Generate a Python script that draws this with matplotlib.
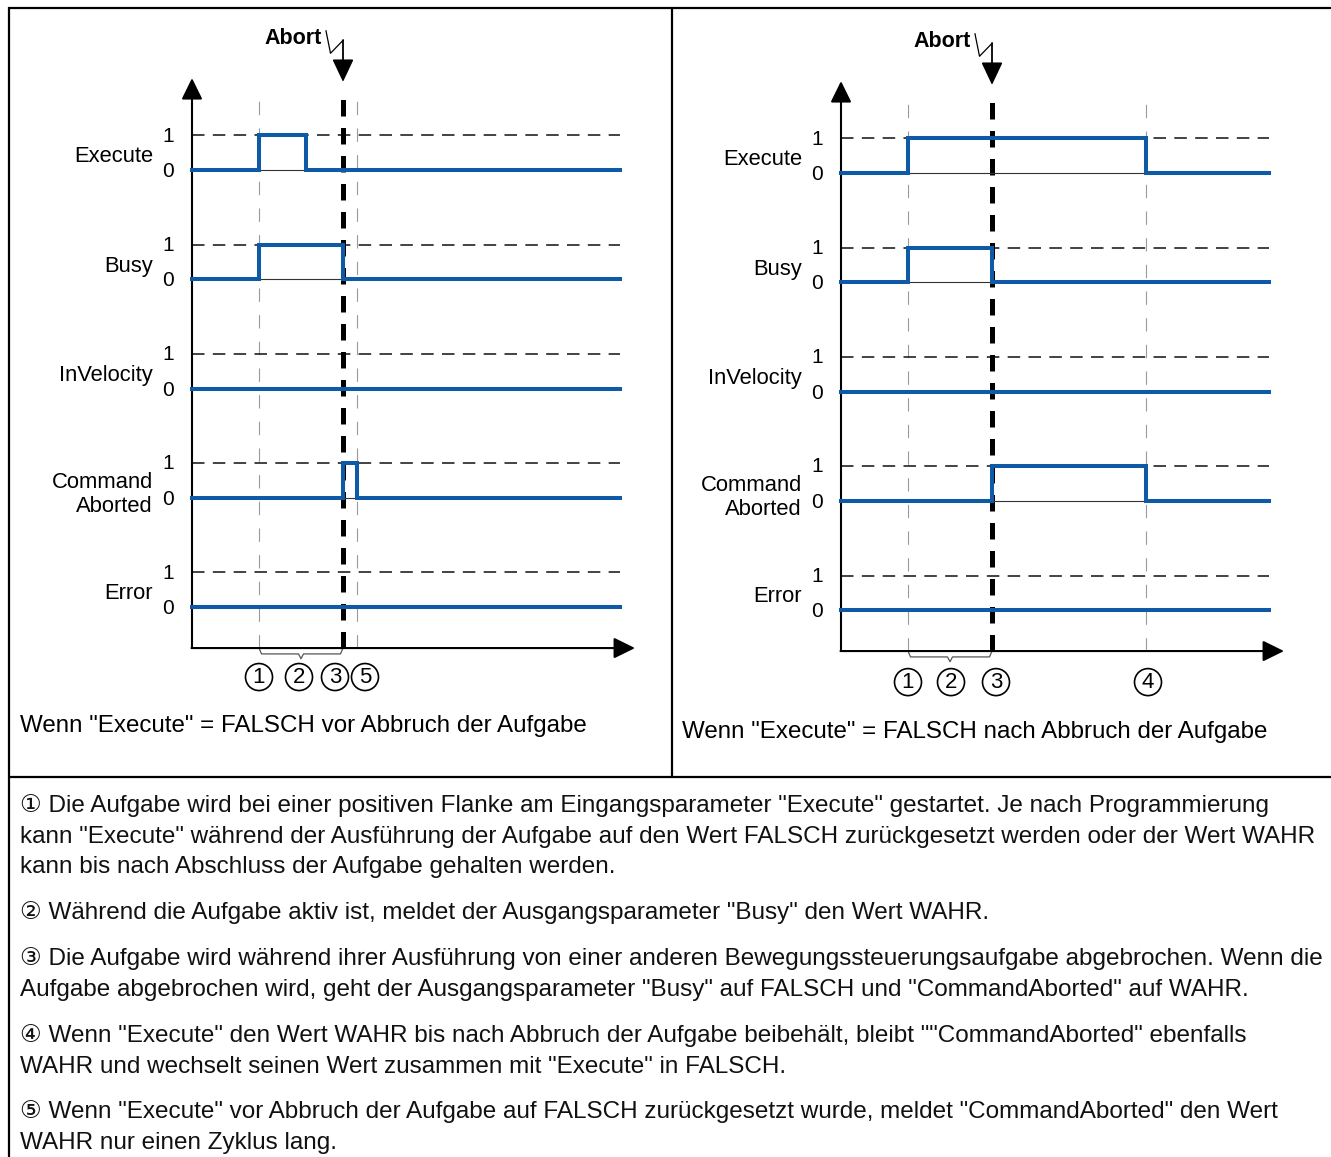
import numpy as np
import matplotlib
matplotlib.use('Agg')
import matplotlib.pyplot as plt
from matplotlib.patches import Ellipse

plt.rcParams['font.family'] = ['Liberation Sans', 'DejaVu Sans']

W, H = 1331, 1157
BLUE = '#0f5aa6'
PX_Y = 34.5   # Pixel pro Einheit in y (Abstand 0 -> 1)

# Signale und Zeilen (Basislinie der Zeile in Einheiten)
signals = ['Execute', 'Busy', 'InVelocity', 'Command\nAborted', 'Error']
row_base = [12.67, 9.5, 6.33, 3.17, 0.0]

# WAHR-Phasen je Signal (Start, Ende), Zeit in Einheiten ab der y-Achse
left_high = [[(6.7, 11.4)], [(6.7, 15.1)], [], [(15.1, 16.5)], []]
right_high = [[(6.7, 30.5)], [(6.7, 15.1)], [], [(15.1, 30.5)], []]
t_end = 42.8
abort_t = 15.1

# duenne Hilfslinien und Nummern unter der Zeitachse
left_guides = [6.7, 16.5]
right_guides = [6.7, 30.5]
left_nums = ['1', '2', '3', '5']
left_num_x = [6.7, 10.7, 14.3, 17.3]
right_nums = ['1', '2', '3', '4']
right_num_x = [6.7, 11.0, 15.5, 30.7]

captions = ['Wenn "Execute" = FALSCH vor Abbruch der Aufgabe',
            'Wenn "Execute" = FALSCH nach Abbruch der Aufgabe']

notes = [
    ['\u2460 Die Aufgabe wird bei einer positiven Flanke am Eingangsparameter "Execute" gestartet. Je nach Programmierung',
     'kann "Execute" während der Ausführung der Aufgabe auf den Wert FALSCH zurückgesetzt werden oder der Wert WAHR',
     'kann bis nach Abschluss der Aufgabe gehalten werden.'],
    ['\u2461 Während die Aufgabe aktiv ist, meldet der Ausgangsparameter "Busy" den Wert WAHR.'],
    ['\u2462 Die Aufgabe wird während ihrer Ausführung von einer anderen Bewegungssteuerungsaufgabe abgebrochen. Wenn die',
     'Aufgabe abgebrochen wird, geht der Ausgangsparameter "Busy" auf FALSCH und "CommandAborted" auf WAHR.'],
    ['\u2463 Wenn "Execute" den Wert WAHR bis nach Abbruch der Aufgabe beibehält, bleibt ""CommandAborted" ebenfalls',
     'WAHR und wechselt seinen Wert zusammen mit "Execute" in FALSCH.'],
    ['\u2464 Wenn "Execute" vor Abbruch der Aufgabe auf FALSCH zurückgesetzt wurde, meldet "CommandAborted" den Wert',
     'WAHR nur einen Zyklus lang.'],
]
note_y = [806, 913, 959, 1036, 1112]
line_step = 30.7

fig = plt.figure(figsize=(W / 100, H / 100), dpi=100)

# Rahmen / Tabelle
bg = fig.add_axes([0, 0, 1, 1])
bg.set_xlim(0, W)
bg.set_ylim(H, 0)
bg.axis('off')
fl = dict(color='black', lw=1.6, solid_capstyle='butt')
bg.plot([8, W], [7.5, 7.5], **fl)
bg.plot([8.5, 8.5], [7, H], **fl)
bg.plot([671.5, 671.5], [7, 777], **fl)
bg.plot([8, W], [777, 777], **fl)

bg.text(20, 726, captions[0], fontsize=17.4, va='center', ha='left')
bg.text(682, 732, captions[1], fontsize=17.4, va='center', ha='left')

for lines, y0 in zip(notes, note_y):
    for i, line in enumerate(lines):
        bg.text(20, y0 + i * line_step, line, fontsize=17.45, va='center', ha='left',
                color='#111111')


def panel_axes(px0, py0):
    # px0: Pixel der y-Achse, py0: Pixel der 0-Linie von "Error"
    left = px0 - 150
    top = py0 - 17 * PX_Y
    bottom = py0 + 3 * PX_Y
    ax = fig.add_axes([left / W, 1 - bottom / H, 600 / W, (bottom - top) / H])
    ax.set_xlim(-15, 45)
    ax.set_ylim(-3, 17)
    ax.axis('off')
    return ax


def draw_panel(ax, high, guides, nums, num_x, num_y):
    x_axis_y = -1.19
    top_y = 15.33
    # Achsen mit Pfeilen
    ax.annotate('', xy=(0, top_y), xytext=(0, x_axis_y),
                arrowprops=dict(arrowstyle='-|>,head_length=0.65,head_width=0.32',
                                mutation_scale=20, lw=1.5, color='black',
                                shrinkA=0, shrinkB=0))
    ax.annotate('', xy=(44.3, x_axis_y), xytext=(-0.05, x_axis_y),
                arrowprops=dict(arrowstyle='-|>,head_length=0.65,head_width=0.32',
                                mutation_scale=20, lw=1.5, color='black',
                                shrinkA=0, shrinkB=0))

    # duenne Hilfslinien
    for g in guides:
        ax.plot([g, g], [x_axis_y, 14.95], color='#9a9a9a', lw=0.8,
                dashes=(12, 12), zorder=1)
    # Abbruch-Linie
    ax.plot([abort_t, abort_t], [x_axis_y, 14.95], color='black', lw=3.6,
            dashes=(3.3, 2.3), zorder=2)

    for name, base, hs in zip(signals, row_base, high):
        ax.plot([0, t_end], [base + 1, base + 1], color='#222222', lw=1.2,
                dashes=(7.5, 5), zorder=1)
        ax.plot([0, t_end], [base, base], color='#333333', lw=0.8, zorder=2)
        xs, ys = [0], [base]
        for a, b in hs:
            xs += [a, a, b, b]
            ys += [base, base + 1, base + 1, base]
        xs.append(t_end)
        ys.append(base)
        ax.plot(xs, ys, color=BLUE, lw=2.9, solid_joinstyle='miter', zorder=3)
        ax.text(-2.4, base + 0.98, '1', fontsize=15, ha='center', va='center')
        ax.text(-2.4, base - 0.05, '0', fontsize=15, ha='center', va='center')
        if '\n' in name:
            ax.text(-3.9, base + 0.08, name, fontsize=15.8, ha='right',
                    va='center', linespacing=1.2)
        else:
            ax.text(-3.9, base + 0.38, name, fontsize=15.8, ha='right',
                    va='center')

    # Abort mit Blitz
    ax.text(10.15, 16.49, 'Abort', fontsize=15.5, fontweight='bold',
            ha='center', va='center')
    ax.plot([13.4, 13.85, 15.12], [16.7, 16.05, 16.43], color='black', lw=0.9)
    ax.annotate('', xy=(abort_t, 15.22), xytext=(abort_t, 16.43),
                arrowprops=dict(arrowstyle='-|>,head_length=0.7,head_width=0.33',
                                mutation_scale=20, lw=1.3, color='black',
                                shrinkA=0, shrinkB=0))

    # Klammer zwischen 1 und 3
    a, b = 6.7, abort_t
    c = (a + b) / 2
    ax.plot([a, a + 0.25, c - 0.25, c, c + 0.25, b - 0.25, b],
            [x_axis_y, -1.36, -1.36, -1.5, -1.36, -1.36, x_axis_y],
            color='#555555', lw=0.9)

    for n, x in zip(nums, num_x):
        ax.add_patch(Ellipse((x, num_y), 2.7, 27 / PX_Y, fill=False,
                             ec='black', lw=1.2))
        ax.text(x, num_y, n, fontsize=16, ha='center', va='center')


ax_l = panel_axes(192, 607)
draw_panel(ax_l, left_high, left_guides, left_nums, left_num_x, -2.03)
ax_r = panel_axes(841, 610)
draw_panel(ax_r, right_high, right_guides, right_nums, right_num_x, -2.09)

fig.savefig('out.png', dpi=100)
